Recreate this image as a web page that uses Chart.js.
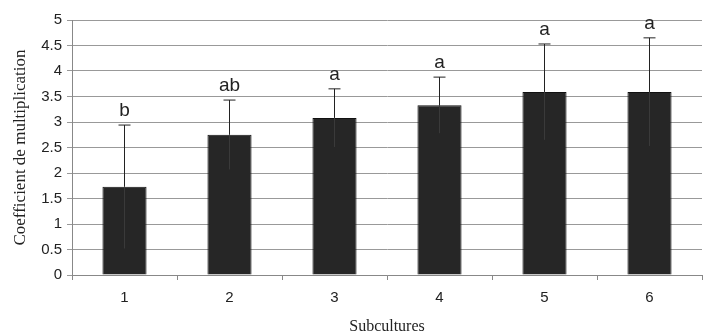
<!DOCTYPE html>
<html>
<head>
<meta charset="utf-8">
<script src="https://cdn.jsdelivr.net/npm/chart.js@4.4.1/dist/chart.umd.min.js"></script>
<style>
  html, body { margin: 0; padding: 0; background: #fff; }
  #wrap { width: 706px; height: 336px; }
</style>
</head>
<body>
<div id="wrap"><canvas id="chart" width="706" height="336"></canvas></div>
<script>
const subcultures = ['1', '2', '3', '4', '5', '6'];
const means = [1.73, 2.75, 3.08, 3.33, 3.59, 3.59];
const errors = [1.21, 0.68, 0.57, 0.55, 0.94, 1.06];
const letters = ['b', 'ab', 'a', 'a', 'a', 'a'];
const yTickLabels = ['0', '0.5', '1', '1.5', '2', '2.5', '3', '3.5', '4', '4.5', '5'];

// error bars + significance letters
const errorBarPlugin = {
  id: 'errorBars',
  afterDatasetsDraw(chart) {
    const ctx = chart.ctx;
    const meta = chart.getDatasetMeta(0);
    const yScale = chart.scales.y;
    ctx.save();
    meta.data.forEach((bar, i) => {
      const x = bar.x;
      const top = yScale.getPixelForValue(means[i] + errors[i]);
      const low = yScale.getPixelForValue(means[i] - errors[i]);
      // part inside the bar, barely visible
      ctx.strokeStyle = '#3a3a3a';
      ctx.lineWidth = 1;
      ctx.beginPath();
      ctx.moveTo(x, bar.y);
      ctx.lineTo(x, low);
      ctx.stroke();
      // upper part
      ctx.strokeStyle = '#222';
      ctx.beginPath();
      ctx.moveTo(x, bar.y);
      ctx.lineTo(x, top);
      ctx.moveTo(x - 6, top);
      ctx.lineTo(x + 6, top);
      ctx.stroke();
      // letter
      ctx.fillStyle = '#222';
      ctx.font = '19px "Liberation Sans", Arial, sans-serif';
      ctx.textAlign = 'center';
      ctx.textBaseline = 'bottom';
      ctx.fillText(letters[i], x, top - 5);
    });
    ctx.restore();
  }
};

new Chart(document.getElementById('chart'), {
  type: 'bar',
  data: {
    labels: subcultures,
    datasets: [{
      data: means,
      backgroundColor: '#262626',
      borderColor: '#111',
      borderWidth: 1,
      categoryPercentage: 1.0,
      barPercentage: 0.42
    }]
  },
  options: {
    responsive: false,
    animation: false,
    layout: { padding: { top: 20, right: 4, left: 0, bottom: 0 } },
    plugins: {
      legend: { display: false },
      tooltip: { enabled: false }
    },
    scales: {
      x: {
        grid: {
          offset: true,
          drawOnChartArea: false,
          drawTicks: true,
          tickLength: 5,
          color: '#888'
        },
        border: { color: '#888' },
        ticks: {
          color: '#222',
          font: { family: '"Liberation Sans", Arial, sans-serif', size: 15 },
          padding: 9
        },
        title: {
          display: true,
          text: 'Subcultures',
          color: '#222',
          font: { family: '"Liberation Serif", "Times New Roman", serif', size: 16 },
          padding: { top: 10, bottom: 0 }
        },
        afterFit(scale) { scale.height = 61; }
      },
      y: {
        min: 0,
        max: 5,
        ticks: {
          stepSize: 0.5,
          color: '#222',
          font: { family: '"Liberation Sans", Arial, sans-serif', size: 15 },
          padding: 5,
          callback: (v, i) => yTickLabels[i]
        },
        grid: {
          color: '#999',
          tickLength: 5
        },
        border: { color: '#888' },
        title: {
          display: true,
          text: 'Coefficient de multiplication',
          color: '#222',
          font: { family: '"Liberation Serif", "Times New Roman", serif', size: 17 },
          padding: { top: 10, bottom: 0 }
        },
        afterFit(scale) { scale.width = 72; }
      }
    }
  },
  plugins: [errorBarPlugin]
});
</script>
</body>
</html>
